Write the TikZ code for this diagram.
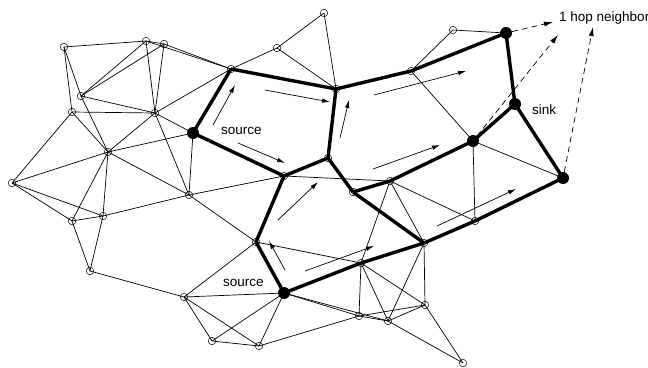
\documentclass[tikz,border=0pt]{standalone}
\usepackage{fontspec}
\setmainfont{Liberation Sans}
\usetikzlibrary{arrows.meta}
\tikzset{
  sn/.style={circle,draw,inner sep=0pt,minimum size=7.5pt,line width=0.5pt},
  bn/.style={circle,fill=black,inner sep=0pt,minimum size=12pt},
  thin edge/.style={line width=0.7pt},
  thick edge/.style={line width=3.4pt,line join=round},
  flow/.style={line width=0.7pt,-{Latex[length=8pt,width=4.5pt]}},
  hop/.style={line width=0.7pt,dash pattern=on 6pt off 4pt,-{Latex[length=9pt,width=5pt]}},
  lbl/.style={font=\fontsize{13.5}{15}\selectfont,inner sep=0pt,anchor=west}
}
\begin{document}
\begin{tikzpicture}[x=1pt,y=-1pt]
\useasboundingbox (0,0) rectangle (648,367);
% nodes
\node[sn] (A1) at (64,47) {};
\node[sn] (A2) at (146,41) {};
\node[sn] (A3) at (164,44) {};
\node[sn] (A4) at (81,96) {};
\node[sn] (A5) at (72,112) {};
\node[sn] (A6) at (155,113) {};
\node[sn] (A7) at (108,152) {};
\node[sn] (A8) at (12,183) {};
\node[bn] (S1) at (193,133) {};
\node[sn] (A9) at (231,69) {};
\node[sn] (A10) at (277,48) {};
\node[sn] (A11) at (324,13) {};
\node[sn] (A12) at (336,89) {};
\node[sn] (A13) at (328,158) {};
\node[sn] (A14) at (284,176) {};
\node[sn] (A15) at (390,181) {};
\node[sn] (N) at (353,192) {};
\node[sn] (A16) at (411,71) {};
\node[sn] (A17) at (453,30) {};
\node[bn] (B1) at (506,33) {};
\node[bn] (SK) at (515,104) {};
\node[bn] (B2) at (473,141) {};
\node[bn] (B3) at (563,178) {};
\node[sn] (R) at (424,243) {};
\node[sn] (S) at (475,221) {};
\node[sn] (P) at (256,242) {};
\node[bn] (S2) at (284,293) {};
\node[sn] (Q) at (361,263) {};
\node[sn] (B) at (189,195) {};
\node[sn] (C) at (103,216) {};
\node[sn] (D) at (72,221) {};
\node[sn] (E) at (90,271) {};
\node[sn] (F) at (184,297) {};
\node[sn] (G) at (212,341) {};
\node[sn] (H) at (259,346) {};
\node[sn] (I) at (359,316) {};
\node[sn] (J) at (388,321) {};
\node[sn] (K) at (425,305) {};
\node[sn] (L) at (463,363) {};
% thin edges
\foreach \a/\b in {A1/A2,A2/A3,A1/A4,A4/A7,A1/A5,A2/A4,A3/A4,A2/A6,A3/A6,A4/A6,
  A5/A6,A5/A7,A5/A8,A6/A7,A6/A9,A6/S1,A6/B,A7/S1,A7/A8,A7/C,A7/D,A7/B,S1/B,
  A2/A9,A3/A9,A9/A10,A10/A11,A10/A12,A11/A12,A16/A17,A17/B1,A16/B2,B2/S,B2/B3,
  A14/A15,A15/R,A15/Q,A15/S,A8/D,A8/C,D/C,D/E,C/E,C/B,E/F,B/A14,B/P,P/F,P/Q,
  F/S2,F/G,F/H,G/S2,H/S2,G/H,H/I,S2/I,S2/J,Q/I,Q/J,Q/K,R/J,R/K,I/J,I/K,J/K,J/L,K/L}
  \draw[thin edge] (\a.center) -- (\b.center);
% thick path edges
\foreach \a/\b in {S1/A9,A9/A12,A12/A16,A16/B1,B1/SK,SK/B2,SK/B3,B2/A15,A15/N,
  N/A13,A13/A12,A13/A14,A14/S1,A14/P,P/S2,S2/Q,Q/R,N/R,R/S,S/B3}
  \draw[thick edge] (\a.center) -- (\b.center);
% flow arrows
\coordinate (f1s) at (213,125); \coordinate (f1e) at (235,85);
\coordinate (f2s) at (265,90);  \coordinate (f2e) at (330,102);
\coordinate (f3s) at (340,138); \coordinate (f3e) at (349,100);
\coordinate (f4s) at (238,143); \coordinate (f4e) at (285,163);
\coordinate (f5s) at (374,95);  \coordinate (f5e) at (466,71);
\coordinate (f6s) at (373,169); \coordinate (f6e) at (440,145);
\coordinate (f7s) at (278,220); \coordinate (f7e) at (318,182);
\coordinate (f8s) at (285,270); \coordinate (f8e) at (269,241);
\coordinate (f9s) at (305,271); \coordinate (f9e) at (374,246);
\coordinate (f10s) at (437,226); \coordinate (f10e) at (516,189);
\foreach \i in {1,...,10} \draw[flow] (f\i s) -- (f\i e);
% one-hop dashed arrows
\coordinate (h1) at (553,22);
\coordinate (h2) at (558,35);
\coordinate (h3) at (593,27);
\draw[hop] (B1) -- (h1);
\draw[hop] (B2) -- (h2);
\draw[hop] (B3) -- (h3);
% labels
\node[lbl] (t1) at (559,18) {1 hop neighbor};
\node[lbl] (t2) at (532,110) {sink};
\node[lbl] (t3) at (221,131) {source};
\node[lbl] (t4) at (223,283) {source};
\end{tikzpicture}
\end{document}
